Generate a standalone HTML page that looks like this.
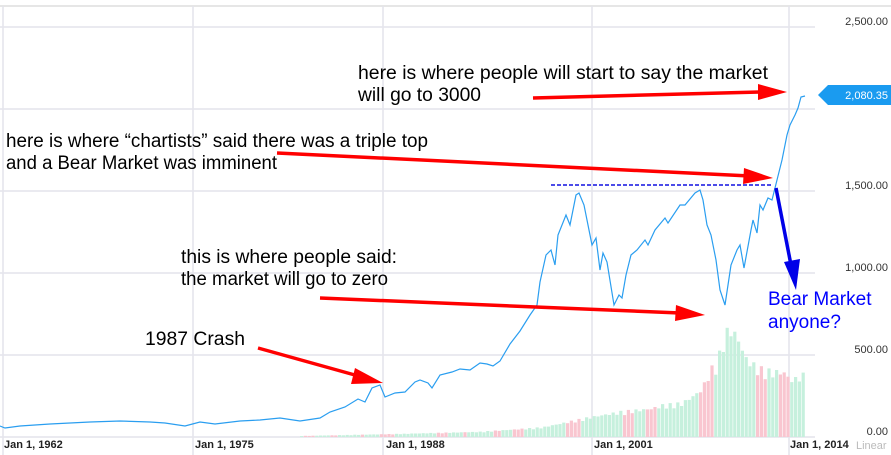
<!DOCTYPE html>
<html><head><meta charset="utf-8"><style>
html,body{margin:0;padding:0;background:#fff;}
svg{display:block;}
text{font-family:"Liberation Sans",Arial,sans-serif;}
</style></head><body>
<svg id="s" width="891" height="455" viewBox="0 0 891 455" xmlns="http://www.w3.org/2000/svg">
<rect width="891" height="455" fill="#fff"/>
<line x1="0" y1="6" x2="891" y2="6" stroke="#ccc"/>
<g stroke="#e4e4ec" stroke-width="1.5">
<line x1="0" y1="27" x2="815" y2="27"/><line x1="0" y1="109" x2="815" y2="109"/>
<line x1="0" y1="191" x2="815" y2="191"/><line x1="0" y1="273" x2="815" y2="273"/>
<line x1="0" y1="355" x2="815" y2="355"/><line x1="0" y1="437" x2="815" y2="437"/>
<line x1="3" y1="6" x2="3" y2="455"/><line x1="193" y1="6" x2="193" y2="455"/>
<line x1="383" y1="6" x2="383" y2="455"/><line x1="592" y1="6" x2="592" y2="455"/>
<line x1="789" y1="6" x2="789" y2="455"/>
</g>
<g id="bars"></g>
<polyline fill="none" stroke="#2a9ef0" stroke-width="1.2" points="0,426 5,428 20,426 50,424 90,422 120,421 150,422 165,423 185,426 200,422 215,424 240,421 260,420 280,418 300,421 320,418 330,412 345,407 358,399 365,402 372,388 380,385 385,397 395,393 405,392 415,382 420,380 428,383 432,388 440,375 452,372 460,369 470,370 480,363 487,364 493,366 500,361 510,344 520,331 530,315 537,305 540,282 546,255 551,250 555,265 558,235 566,215 570,225 576,195 579,193 584,205 592,245 596,238 600,270 603,253 607,262 614,305 619,295 622,298 626,275 631,255 637,250 645,240 648,245 655,230 665,218 668,223 680,205 685,205 695,193 700,190 703,200 707,225 711,235 716,260 720,290 725,305 731,265 737,250 740,245 744,268 751,230 753,220 757,233 760,205 763,210 768,198 772,200 777,180 782,160 787,135 790,125 795,115 798,108 801,97 805,96"/>
<g font-size="11" fill="#333" text-anchor="end">
<text x="888" y="25">2,500.00</text><text x="888" y="189">1,500.00</text>
<text x="888" y="271">1,000.00</text><text x="888" y="353">500.00</text><text x="888" y="435">0.00</text>
</g>
<path d="M818,95 L828,85 L891,85 L891,105 L828,105 Z" fill="#1a9bf0"/>
<text x="888" y="99" font-size="11" fill="#fff" text-anchor="end">2,080.35</text>
<g font-size="11" font-weight="bold" fill="#222">
<text x="4" y="448">Jan 1, 1962</text><text x="195" y="448">Jan 1, 1975</text>
<text x="386" y="448">Jan 1, 1988</text><text x="594" y="448">Jan 1, 2001</text>
<text x="790" y="448">Jan 1, 2014</text>
</g>
<text x="856" y="449" font-size="11" fill="#bbb">Linear</text>
<line x1="551" y1="185" x2="772" y2="185" stroke="#1010e0" stroke-width="1.5" stroke-dasharray="4,2"/>
<g stroke="#f00" stroke-width="3.5" fill="none">
<line x1="533" y1="98" x2="760" y2="92"/>
<line x1="277" y1="153" x2="750" y2="176"/>
<line x1="320" y1="298" x2="680" y2="313"/>
<line x1="258" y1="348" x2="362" y2="377"/>
</g>
<g fill="#f00">
<polygon points="787,92 758,84 758,100"/>
<polygon points="773,178 744,168 743,184"/>
<polygon points="705,315 676,305 675,321"/>
<polygon points="383,383 355,368 351,384"/>
</g>
<line x1="776" y1="188" x2="791" y2="265" stroke="#0000e8" stroke-width="3.5"/>
<polygon points="796,290 784,262 800,259" fill="#0000e8"/>
<g font-size="19" fill="#000" lengthAdjust="spacingAndGlyphs">
<text x="358" y="79" textLength="410" lengthAdjust="spacingAndGlyphs">here is where people  will  start  to say the market</text>
<text x="358" y="101" textLength="123" lengthAdjust="spacingAndGlyphs">will go to 3000</text>
<text x="6" y="147" textLength="422" lengthAdjust="spacingAndGlyphs">here is where “chartists” said there was a triple top</text>
<text x="6" y="169" textLength="271" lengthAdjust="spacingAndGlyphs">and a Bear Market was imminent</text>
<text x="181" y="263" textLength="216" lengthAdjust="spacingAndGlyphs">this is where people said:</text>
<text x="181" y="285" textLength="207" lengthAdjust="spacingAndGlyphs">the market will go to zero</text>
<text x="145" y="345" textLength="100" lengthAdjust="spacingAndGlyphs">1987 Crash</text>
</g>
<g font-size="19" fill="#0000ff">
<text x="768" y="305">Bear Market</text><text x="768" y="328">anyone?</text>
</g>
</svg>
<script>
(function(){
var pts=[[300,1],[400,3],[480,5],[540,9],[590,19],[620,24],[650,27],[660,30],[680,32],[690,38],[700,45],[705,55],[710,65],[715,69],[720,85],[725,100],[730,102],[735,97],[745,74],[757,65],[770,62],[782,62],[790,54],[802,59]];
function h(x){for(var i=0;i<pts.length-1;i++){if(x>=pts[i][0]&&x<=pts[i+1][0]){var t=(x-pts[i][0])/(pts[i+1][0]-pts[i][0]);return pts[i][1]+t*(pts[i+1][1]-pts[i][1]);}}return 0;}
var g=document.getElementById('bars'),s='',k=0;
for(var x=300;x<=802;x+=3.8){var hh=h(x)*(0.9+0.2*Math.abs(Math.sin(k*1.7)));var red=(Math.sin(k*0.9)+Math.sin(k*0.37))>0.6;
s+='<rect x="'+x.toFixed(1)+'" y="'+(437-hh).toFixed(1)+'" width="3.2" height="'+hh.toFixed(1)+'" fill="'+(red?'#f9c6d0':'#c6f0dd')+'"/>';k++;}
g.innerHTML=s;})();
</script>
</body></html>
